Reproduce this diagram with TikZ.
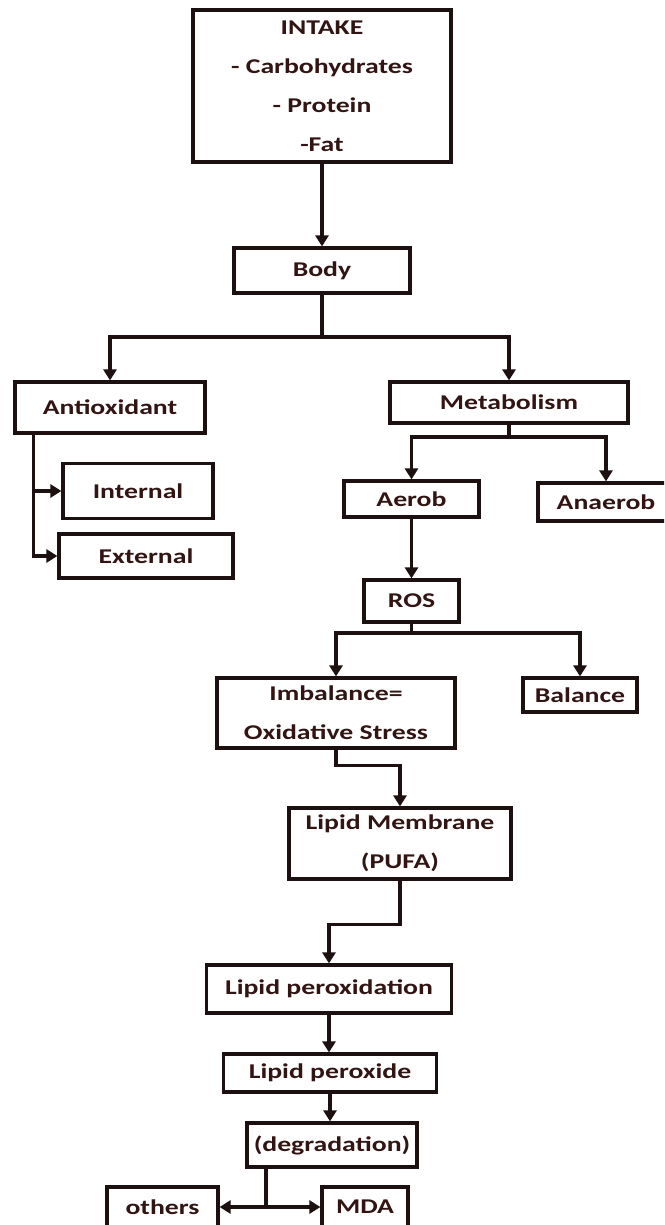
\documentclass[tikz,border=0pt]{standalone}
\usepackage{fontspec}
\setmainfont{Carlito}[FakeStretch=1.32]
\usepackage{tikz}
\usetikzlibrary{arrows.meta}
\definecolor{linec}{RGB}{28,16,16}
\definecolor{txtc}{RGB}{50,20,18}

\begin{document}
\begin{tikzpicture}[x=1pt,y=-1pt,>={Triangle[length=11pt,width=13pt]},
  blk/.style={draw=linec,line width=3.2pt,fill=white,text=txtc,inner sep=0pt,
    align=center,font=\fontsize{21}{39}\selectfont\bfseries},
  con/.style={draw=linec,line width=3.2pt}]
\clip (0,0) rectangle (664,1225);
\fill[white] (0,0) rectangle (664,1225);
% top: intake and body
\node[blk,minimum width=258pt,minimum height=152pt] (intake) at (322,86)
  {INTAKE\\- Carbohydrates\\- Protein\\-Fat};
\node[blk,minimum width=176pt,minimum height=45pt] (body) at (322,270.5) {Body};
\node[blk,minimum width=190pt,minimum height=51pt] (antiox) at (110,407.5) {Antioxidant};
\node[blk,minimum width=238pt,minimum height=41pt] (metab) at (509,402.5) {Metabolism};
% left branch
\node[blk,minimum width=150pt,minimum height=55pt] (intern) at (138,491) {Internal};
\node[blk,minimum width=174pt,minimum height=44pt] (extern) at (146,556) {External};
% right branch
\node[blk,minimum width=135pt,minimum height=36pt] (aerob) at (411.5,499) {Aerob};
\node[blk,minimum width=136pt,minimum height=38pt] (anaerob) at (606,502) {Anaerob};
\node[blk,minimum width=95pt,minimum height=42pt] (ros) at (411.5,601) {ROS};
\node[blk,minimum width=238pt,minimum height=70pt] (imbal) at (336,713)
  {Imbalance=\\Oxidative Stress};
\node[blk,minimum width=114pt,minimum height=34pt] (bal) at (580,695) {Balance};
\node[blk,minimum width=222pt,minimum height=71pt] (lipmem) at (400,843.5)
  {Lipid Membrane\\(PUFA)};
\node[blk,minimum width=245pt,minimum height=48pt] (lperox) at (329,989) {Lipid peroxidation};
\node[blk,minimum width=213pt,minimum height=38pt] (lperoxd) at (330,1073) {Lipid peroxide};
\node[blk,minimum width=170pt,minimum height=44pt] (degr) at (332,1145) {(degradation)};
\node[blk,minimum width=111pt,minimum height=40pt] (others) at (162.5,1207) {others};
\node[blk,minimum width=86pt,minimum height=40pt] (mda) at (365,1207) {MDA};
% connectors
\coordinate (j1) at (322,337);
\coordinate (j2) at (509,437);
\coordinate (j3) at (411.5,633);
\coordinate (j4) at (266,1207);
\draw[con,->] (intake) -- (body);
\draw[con] (body) -- (j1);
\draw[con,->] (j1) -| (antiox);
\draw[con,->] (j1) -| (metab);
\draw[con,->] ([xshift=20pt]antiox.south west) |- (intern);
\draw[con,->] ([xshift=20pt]antiox.south west) |- (extern);
\draw[con] (metab) -- (j2);
\draw[con,->] (j2) -| (aerob);
\draw[con,->] (j2) -| (anaerob);
\draw[con,->] (aerob) -- (ros);
\draw[con] (ros) -- (j3);
\draw[con,->] (j3) -| (imbal);
\draw[con,->] (j3) -| (bal);
\draw[con,->] (imbal.south) -- ++(0,16) -| (lipmem);
\draw[con,->] (lipmem.south) -- ++(0,44) -| (lperox);
\draw[con,->] (lperox.south) -- (lperox.south |- lperoxd.north);
\draw[con,->] (lperoxd.south) -- (lperoxd.south |- degr.north);
\draw[con] (degr.south -| j4) -- (j4);
\draw[con,->] (j4) -- (others);
\draw[con,->] (j4) -- (mda);
\end{tikzpicture}
\end{document}
